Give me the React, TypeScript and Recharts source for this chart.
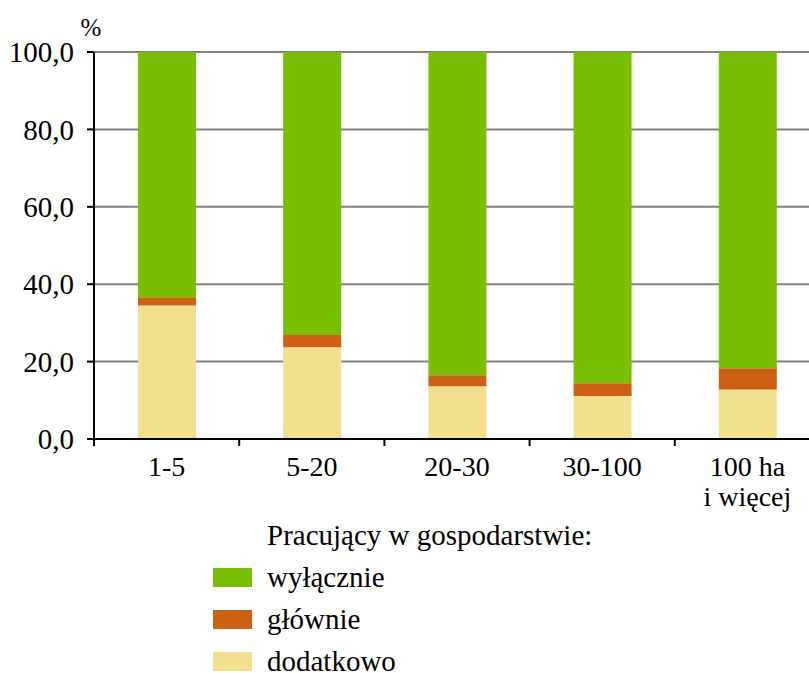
import { Bar, BarChart, CartesianGrid, Legend, XAxis, YAxis } from "recharts"

const categories = ["1-5", "5-20", "20-30", "30-100", "100 ha\ni więcej"]
const dodatkowo = [34.5, 23.7, 13.6, 11.1, 12.8]
const glownie = [2.1, 3.2, 2.9, 3.3, 5.5]
const wylacznie = [63.4, 73.1, 83.5, 85.6, 81.7]
const yTicks = [0, 20, 40, 60, 80, 100]
const boundaryTicks = [0, 1, 2, 3, 4, 5]

const series = [
  { key: "wylacznie", name: "wyłącznie", color: "#77BF00" },
  { key: "glownie", name: "głównie", color: "#CC6114" },
  { key: "dodatkowo", name: "dodatkowo", color: "#F3E08F" },
]

const data = categories.map((label, i) => ({
  label,
  slot: i + 0.5,
  dodatkowo: dodatkowo[i],
  glownie: glownie[i],
  wylacznie: wylacznie[i],
}))

const FONT = "Liberation Serif"
const FS = 29

// etykiety osi X w dwóch liniach
const CategoryTick = ({ x, y, payload }: any) => {
  const lines = String(payload.value).split("\n")
  return (
    <text x={x} y={y} textAnchor="middle" fontFamily={FONT} fontSize={28} fill="#000">
      {lines.map((line, i) => (
        <tspan key={i} x={x} dy={i === 0 ? 36 : 30}>
          {line}
        </tspan>
      ))}
    </text>
  )
}

const LegendBox = () => (
  <div style={{ fontFamily: FONT, fontSize: FS, color: "#000", lineHeight: "42px" }}>
    <div style={{ marginLeft: 54 }}>Pracujący w gospodarstwie:</div>
    {series.map((s) => (
      <div key={s.key} style={{ display: "flex", alignItems: "center", height: 42 }}>
        <span style={{ display: "inline-block", width: 39, height: 19, background: s.color, marginRight: 15 }} />
        <span style={{ lineHeight: "24px" }}>{s.name}</span>
      </div>
    ))}
  </div>
)

export default function App() {
  return (
    <div style={{ position: "absolute", left: 0, top: 0, width: 809, height: 673, overflow: "hidden", background: "#fff" }}>
      <BarChart
        width={830}
        height={673}
        data={data}
        margin={{ top: 52, right: 10, left: 0, bottom: 154 }}
      >
        <CartesianGrid xAxisId="b_cat" vertical={false} stroke="#808080" strokeWidth={2} />
        <XAxis
          xAxisId="b_cat"
          dataKey="label"
          height={79}
          axisLine={false}
          tickLine={false}
          tickSize={0}
          tickMargin={0}
          interval={0}
          tick={<CategoryTick />}
        />
        <XAxis
          xAxisId="a_grid"
          dataKey="slot"
          type="number"
          domain={[0, 5]}
          ticks={boundaryTicks}
          interval={0}
          allowDataOverflow
          height={1}
          stroke="#000"
          strokeWidth={2}
          tickSize={7}
          tickLine={{ stroke: "#000", strokeWidth: 2 }}
          tickFormatter={() => ""}
        />
        <YAxis
          width={94}
          domain={[0, 100]}
          ticks={yTicks}
          stroke="#000"
          strokeWidth={2}
          tickSize={7}
          tickMargin={13}
          tick={{ fill: "#000", fontSize: FS, fontFamily: FONT }}
          tickFormatter={(v: number) => v.toFixed(1).replace(".", ",")}
          label={{
            content: ({ viewBox }: any) => (
              <text x={viewBox.x + viewBox.width - 3} y={viewBox.y - 16} textAnchor="middle" fontFamily={FONT} fontSize={25} fill="#000">
                %
              </text>
            ),
          }}
        />
        {[...series].reverse().map((s) => (
          <Bar
            key={s.key}
            xAxisId="b_cat"
            dataKey={s.key}
            name={s.name}
            stackId="a"
            fill={s.color}
            barSize={58}
            isAnimationActive={false}
          />
        ))}
        <Legend
          layout="vertical"
          align="center"
          verticalAlign="middle"
          content={<LegendBox />}
          wrapperStyle={{ top: 514, left: 213, width: 440 }}
        />
      </BarChart>
    </div>
  )
}
